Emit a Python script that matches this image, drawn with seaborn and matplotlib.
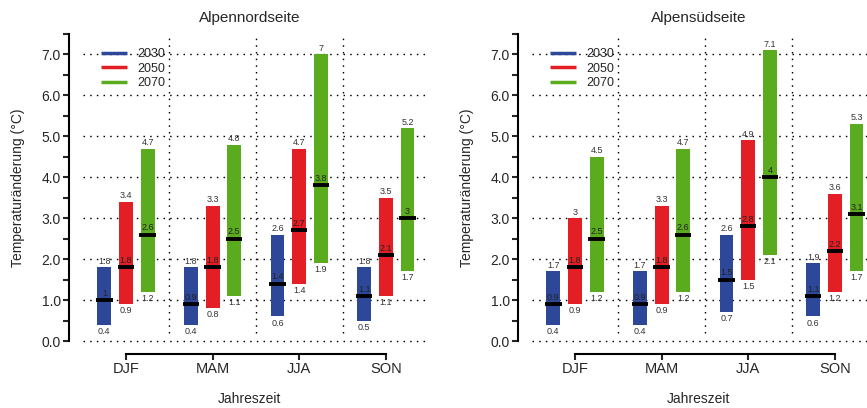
import numpy as np
import pandas as pd
import matplotlib
matplotlib.use("Agg")
import matplotlib.pyplot as plt
from matplotlib.lines import Line2D
import seaborn as sns

seasons = ["DJF", "MAM", "JJA", "SON"]
years = ["2030", "2050", "2070"]
colors = ["#2d4898", "#e31e24", "#5aac1e"]

# Alpennordseite
nord_lo = {"2030": [0.4, 0.4, 0.6, 0.5], "2050": [0.9, 0.8, 1.4, 1.1], "2070": [1.2, 1.1, 1.9, 1.7]}
nord_med = {"2030": [1.0, 0.9, 1.4, 1.1], "2050": [1.8, 1.8, 2.7, 2.1], "2070": [2.6, 2.5, 3.8, 3.0]}
nord_hi = {"2030": [1.8, 1.8, 2.6, 1.8], "2050": [3.4, 3.3, 4.7, 3.5], "2070": [4.7, 4.8, 7.0, 5.2]}

# Alpensuedseite
sued_lo = {"2030": [0.4, 0.4, 0.7, 0.6], "2050": [0.9, 0.9, 1.5, 1.2], "2070": [1.2, 1.2, 2.1, 1.7]}
sued_med = {"2030": [0.9, 0.9, 1.5, 1.1], "2050": [1.8, 1.8, 2.8, 2.2], "2070": [2.5, 2.6, 4.0, 3.1]}
sued_hi = {"2030": [1.7, 1.7, 2.6, 1.9], "2050": [3.0, 3.3, 4.9, 3.6], "2070": [4.5, 4.7, 7.1, 5.3]}

offsets = [-0.25, 0.0, 0.25]

sns.set_style("ticks")
plt.rcParams["font.family"] = ["Liberation Sans", "DejaVu Sans"]

fig = plt.figure(figsize=(8.67, 4.08), dpi=100)


def fmt(v):
    return "{:g}".format(v)


def draw(ax, lo, med, hi, title):
    rows = []
    for j, yr in enumerate(years):
        for i, s in enumerate(seasons):
            rows.append(dict(year=yr, season=s, pos=i + 1 + offsets[j],
                             lo=lo[yr][i], med=med[yr][i], hi=hi[yr][i]))
    df = pd.DataFrame(rows)
    df["span"] = df["hi"] - df["lo"]

    # dotted grid
    ax.hlines(np.arange(0, 8), 0.5, 4.47, colors="black",
              linestyles=(0, (1.1, 3.7)), lw=1.0, zorder=1)
    ax.vlines([1.5, 2.5, 3.5], 0.2, 7.4, colors="black",
              linestyles=(0, (1.1, 3.7)), lw=1.0, zorder=1)

    for j, yr in enumerate(years):
        d = df[df["year"] == yr].sort_values("pos")
        sns.barplot(data=d, x="pos", y="span", native_scale=True, width=0.16,
                    color=colors[j], saturation=1, errorbar=None,
                    bottom=d["lo"].to_numpy(), linewidth=0, ax=ax, zorder=2)
        ax.hlines(d["med"], d["pos"] - 0.095, d["pos"] + 0.095,
                  colors="black", lw=2.8, zorder=3)
        for _, r in d.iterrows():
            ax.text(r["pos"], r["hi"] + 0.15, fmt(r["hi"]), ha="center", va="center",
                    fontsize=6.5, color="#333333", zorder=4)
            ax.text(r["pos"], r["lo"] - 0.16, fmt(r["lo"]), ha="center", va="center",
                    fontsize=6.5, color="#333333", zorder=4)
            ax.text(r["pos"], r["med"] + 0.17, fmt(r["med"]), ha="center", va="center",
                    fontsize=6.5, color="#222222", zorder=4)

    ax.set_xlim(0.342, 4.51)
    ax.set_ylim(-0.317, 7.5)
    ax.set_xticks([1, 2, 3, 4], seasons)
    ax.set_yticks(np.arange(0, 8, 1.0), ["%.1f" % v for v in range(8)])
    ax.set_yticks(np.arange(0.5, 8, 1.0), minor=True)
    ax.tick_params(axis="y", which="both", length=4.3, width=1.5, pad=1.5,
                   labelsize=10, direction="out", left=True)
    ax.tick_params(axis="x", length=4.3, width=1.5, pad=1.5, labelsize=10.5,
                   direction="out", bottom=True)
    ax.set_xlabel("")
    ax.set_ylabel("")
    sns.despine(ax=ax)
    ax.spines["left"].set_bounds(0, 7.5)
    ax.spines["bottom"].set_bounds(1, 4)
    for sp in ("left", "bottom"):
        ax.spines[sp].set_linewidth(1.5)
        ax.spines[sp].set_color("black")

    ax.text(0.5, 1.05, title, transform=ax.transAxes, ha="center", va="center", fontsize=11)
    ax.text(0.5, -0.14, "Jahreszeit", transform=ax.transAxes, ha="center", va="center",
            fontsize=10)
    ax.text(-0.141, 0.52, "Temperaturänderung (°C)", transform=ax.transAxes,
            rotation=90, ha="center", va="center", fontsize=10)

    handles = [Line2D([], [], color=c, lw=2.5, solid_capstyle="butt") for c in colors]
    ax.legend(handles, years, loc="upper left", bbox_to_anchor=(0.0886, 0.956),
              frameon=False, borderpad=0, borderaxespad=0, handlelength=2.1,
              handletextpad=0.8, labelspacing=0.2, fontsize=9)


ax1 = fig.add_axes([69 / 867, 1 - 354 / 408, 361 / 867, 320 / 408])
ax2 = fig.add_axes([518 / 867, 1 - 354 / 408, 361 / 867, 320 / 408])
draw(ax1, nord_lo, nord_med, nord_hi, "Alpennordseite")
draw(ax2, sued_lo, sued_med, sued_hi, "Alpensüdseite")

fig.savefig("out.png", dpi=100)
